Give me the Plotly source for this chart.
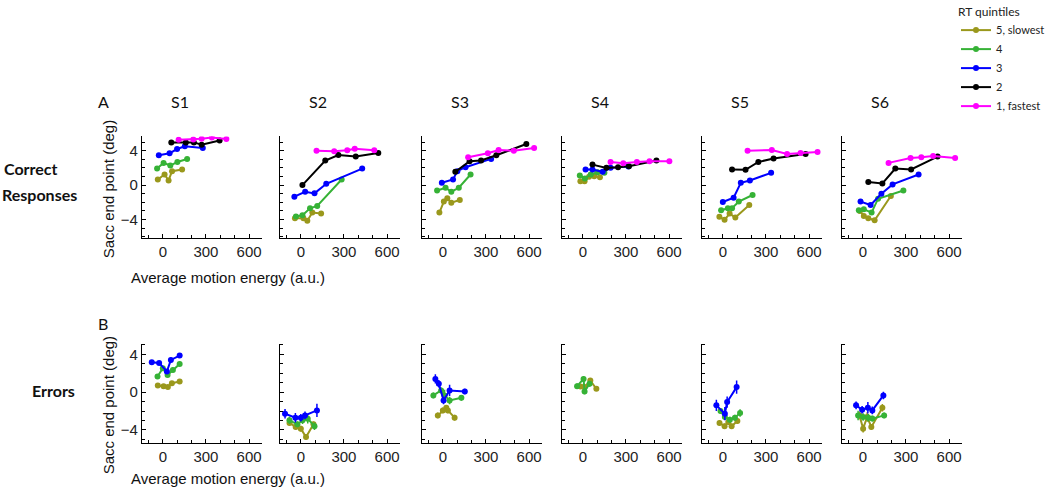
import plotly.graph_objects as go

# ---------------- data ----------------
SUBJECTS = ["S1", "S2", "S3", "S4", "S5", "S6"]
QUINTILES = ["5, slowest", "4", "3", "2", "1, fastest"]
COLORS = ["#9a981c", "#36b236", "#0000ff", "#000000", "#ff00ff"]

# Row A (correct responses): lists ordered quintile 5,4,3,2,1
A1_X = [[-35, 12, 40, 64, 134], [-40, 5, 52, 101, 169], [-28, 47, 99, 153, 278],
        [59, 160, 216, 270, 395], [110, 212, 270, 341, 442]]
A1_Y = [[0.65, 1.23, 0.54, 1.62, 1.81], [1.92, 2.58, 2.27, 2.69, 3.04], [3.46, 3.69, 4.19, 4.5, 4.31],
        [4.96, 4.96, 4.96, 4.69, 5.19], [5.27, 5.3, 5.38, 5.54, 5.35]]
A2_X = [[-41, 18, 45, 80, 141], [-34, 11, 64, 114, 284], [-45, 30, 95, 177, 427],
        [11, 170, 261, 382, 539], [109, 232, 323, 375, 511]]
A2_Y = [[-3.85, -3.85, -4.15, -3.19, -3.31], [-3.65, -3.5, -2.7, -2.42, 0.65], [-1.35, -0.77, -0.96, 0.15, 1.92],
        [0.0, 2.85, 3.5, 3.31, 3.73], [4.0, 3.92, 4.04, 4.23, 4.04]]
A3_X = [[-24, 7, 31, 59, 118], [-40, 19, 59, 111, 193], [-7, 71, 101, 158, 336],
        [87, 186, 266, 372, 581], [176, 313, 388, 494, 635]]
A3_Y = [[-3.19, -1.92, -1.54, -2.04, -1.73], [-0.62, -0.31, -0.77, -0.31, 1.23], [0.27, 0.65, 1.62, 2.08, 3.04],
        [1.54, 2.77, 2.85, 3.46, 4.77], [3.23, 3.69, 4.08, 4.0, 4.31]]
A4_X = [[-17, 12, 43, 79, 119], [-21, 14, 55, 102, 150], [19, 67, 138, 193, 317],
        [67, 164, 245, 321, 512], [193, 281, 376, 464, 602]]
A4_Y = [[0.46, 0.46, 0.96, 1.04, 0.92], [1.12, 0.77, 1.23, 1.5, 1.42], [1.81, 1.81, 1.54, 2.0, 2.15],
        [2.38, 2.0, 2.08, 2.19, 2.85], [2.69, 2.54, 2.69, 2.77, 2.77]]
A5_X = [[-24, 12, 47, 87, 184], [-12, 35, 64, 111, 207], [0, 75, 125, 188, 336],
        [64, 158, 247, 353, 576], [172, 341, 447, 541, 659]]
A5_Y = [[-3.69, -4.04, -3.31, -3.77, -2.31], [-2.92, -2.69, -2.69, -1.92, -1.15], [-1.96, -1.46, 0.27, 0.54, 1.42],
        [1.81, 1.77, 2.69, 3.08, 3.62], [4.0, 4.08, 3.62, 3.73, 3.85]]
A6_X = [[-21, 7, 38, 82, 195], [-28, 7, 61, 106, 282], [-16, 54, 129, 207, 388],
        [38, 136, 226, 336, 520], [179, 332, 407, 489, 642]]
A6_Y = [[-3.0, -3.58, -3.85, -4.08, -1.27], [-2.92, -2.81, -3.19, -1.58, -0.62], [-1.92, -2.31, -1.0, 0.08, 1.23],
        [0.35, 0.19, 1.92, 1.81, 3.31], [2.58, 3.15, 3.23, 3.38, 3.15]]

# Row B (errors): quintiles 5,4,3 only
B1_X = [[-35, 5, 35, 63, 117], [-37, 0, 33, 70, 117], [-77, -26, 28, 56, 117]]
B1_Y = [[0.7, 0.63, 0.53, 0.95, 1.12], [1.65, 2.53, 1.82, 2.35, 2.98], [3.16, 3.09, 2.18, 3.4, 3.86]]
B1_E = [[0.15, 0.15, 0.15, 0.15, 0.2], [0.25, 0.25, 0.25, 0.25, 0.25], [0.2, 0.2, 0.25, 0.25, 0.25]]
B2_X = [[-79, -36, 0, 36, 88], [-79, -24, 12, 48, 95], [-110, -38, 0, 29, 112]]
B2_Y = [[-3.26, -3.68, -3.86, -4.74, -3.4], [-2.98, -3.4, -2.98, -2.81, -3.61], [-2.28, -2.7, -2.7, -2.46, -1.93]]
B2_E = [[0.3, 0.3, 0.3, 0.3, 0.3], [0.4, 0.3, 0.4, 0.5, 0.4], [0.5, 0.5, 0.4, 0.4, 0.7]]
B3_X = [[-35, 0, 24, 35, 82], [-66, -12, 12, 47, 129], [-52, -28, 5, 47, 153]]
B3_Y = [[-2.46, -1.93, -1.65, -1.93, -2.7], [-0.35, 0.18, -0.35, -0.88, -0.6], [1.4, 0.88, -0.88, 0.18, 0.07]]
B3_E = [[0.3, 0.3, 0.3, 0.3, 0.3], [0.3, 0.3, 0.6, 0.4, 0.3], [0.5, 0.4, 0.4, 0.6, 0.3]]
B4_X = [[-16, 12, 52, 94], [-40, 5, 12, 47]]
B4_Y = [[0.6, 0.53, 1.23, 0.35], [0.63, 1.4, 0.07, 0.88]]
B4_E = [[0.2, 0.2, 0.2, 0.2], [0.3, 0.3, 0.3, 0.3]]
B5_X = [[-23, 12, 38, 61, 101], [-16, 14, 49, 84, 120], [-45, 14, 30, 96]]
B5_Y = [[-3.26, -3.61, -3.16, -3.61, -3.05], [-2.0, -2.63, -2.91, -2.7, -2.21], [-1.4, -2.28, -1.05, 0.53]]
B5_E = [[0.3, 0.3, 0.3, 0.3, 0.3], [0.3, 0.3, 0.3, 0.3, 0.4], [0.6, 0.7, 0.6, 0.7]]
B6_X = [[-23, 2, 30, 59, 136], [-33, 2, 38, 66, 148], [-47, -5, 35, 66, 143]]
B6_Y = [[-2.46, -3.86, -2.63, -3.68, -1.65], [-2.46, -2.63, -2.7, -2.8, -2.46], [-1.4, -1.86, -1.65, -1.93, -0.35]]
B6_E = [[0.4, 0.4, 0.5, 0.3, 0.4], [0.5, 0.4, 0.4, 0.3, 0.3], [0.4, 0.4, 0.6, 0.4, 0.4]]

ERR_A_X = 12
ERR_A_Y = 0.2
ERR_B_X = 10

X_TICKS = [0, 300, 600]
Y_TICKS = [-4, 0, 4]

ROW_A = [(A1_X, A1_Y), (A2_X, A2_Y), (A3_X, A3_Y), (A4_X, A4_Y), (A5_X, A5_Y), (A6_X, A6_Y)]
ROW_B = [(B1_X, B1_Y, B1_E), (B2_X, B2_Y, B2_E), (B3_X, B3_Y, B3_E),
         (B4_X, B4_Y, B4_E), (B5_X, B5_Y, B5_E), (B6_X, B6_Y, B6_E)]

# ---------------- layout geometry (pixels) ----------------
W, H = 1050, 493
COL_LEFT = [142, 280, 422, 562, 702, 842]
AX_W = 120
ROWS = [(135, 237), (343, 443)]
X_RANGE = [-145, 690]
Y_RANGES = [[-6.15, 5.65], [-5.4, 5.13]]

TICK_FONT = dict(family="Liberation Sans, Arial, sans-serif", size=15, color="#222")
LABEL_FONT = "Lato, Open Sans, sans-serif"

fig = go.Figure()
layout = {}

def px_x(p):
    return p / W

def px_y(p):
    return 1 - p / H

def add_series(ax_i, xs, ys, qi, ex, ey, show):
    sfx = "" if ax_i == 1 else str(ax_i)
    fig.add_trace(go.Scatter(
        x=xs, y=ys, mode="lines+markers",
        line=dict(color=COLORS[qi], width=2),
        marker=dict(color=COLORS[qi], size=6),
        error_x=dict(type="constant", value=ex, color=COLORS[qi], thickness=1.5, width=0),
        error_y=(dict(type="data", array=ey, color=COLORS[qi], thickness=1.5, width=0)
                 if isinstance(ey, list) else
                 dict(type="constant", value=ey, color=COLORS[qi], thickness=1.5, width=0)),
        name=QUINTILES[qi], showlegend=show,
        xaxis="x" + sfx, yaxis="y" + sfx,
    ))

ax_i = 0
for r in range(2):
    top, bot = ROWS[r]
    for c in range(6):
        ax_i += 1
        sfx = "" if ax_i == 1 else str(ax_i)
        left = COL_LEFT[c]
        layout["xaxis" + sfx] = dict(
            domain=[px_x(left), px_x(left + AX_W)], anchor="y" + sfx,
            range=X_RANGE, tickvals=X_TICKS, ticktext=[str(v) for v in X_TICKS],
            showline=True, linecolor="black", linewidth=1.2, showgrid=False, zeroline=False,
            ticks="inside", ticklen=4, tickcolor="black", tickfont=TICK_FONT,
            ticklabelstandoff=0,
            minor=dict(dtick=100, tick0=0, ticks="inside", ticklen=3, tickcolor="black", showgrid=False),
        )
        layout["yaxis" + sfx] = dict(
            domain=[px_y(bot), px_y(top)], anchor="x" + sfx,
            range=Y_RANGES[r], tickvals=Y_TICKS,
            ticktext=["\u22124", "0", "4"], showticklabels=(c == 0),
            showline=True, linecolor="black", linewidth=1.2, showgrid=False, zeroline=False,
            ticks="inside", ticklen=4, tickcolor="black", tickfont=TICK_FONT,
            ticklabelstandoff=0,
            minor=dict(dtick=1, tick0=0, ticks="inside", ticklen=3, tickcolor="black", showgrid=False),
        )
        if r == 0:
            xs_all, ys_all = ROW_A[c]
            for qi in range(5):
                add_series(ax_i, xs_all[qi], ys_all[qi], qi, ERR_A_X, ERR_A_Y, c == 0)
        else:
            xs_all, ys_all, es_all = ROW_B[c]
            for k in range(len(xs_all)):
                add_series(ax_i, xs_all[k], ys_all[k], k, ERR_B_X, es_all[k], False)

annotations = []
def ann(text, x, y, size=15, family=LABEL_FONT, bold=False, xanchor="center", angle=0, color="#111"):
    annotations.append(dict(
        text=("<b>%s</b>" % text) if bold else text, x=px_x(x), y=px_y(y),
        xref="paper", yref="paper", showarrow=False, xanchor=xanchor, yanchor="middle",
        textangle=angle, font=dict(family=family, size=size, color=color),
    ))

for c, s in enumerate(SUBJECTS):
    ann(s, COL_LEFT[c] + 38, 100, size=16)
ann("A", 103, 100, size=16)
ann("B", 103, 323, size=16)
ann("Correct", 2, 167, size=16, bold=True, xanchor="left")
ann("Responses", 0, 193, size=16, bold=True, xanchor="left")
ann("Errors", 30, 390, size=16, bold=True, xanchor="left")
ann("Sacc end point (deg)", 108, 188, size=15, family=TICK_FONT["family"], angle=-90)
ann("Sacc end point (deg)", 108, 405, size=15, family=TICK_FONT["family"], angle=-90)
ann("Average motion energy (a.u.)", 228, 277, size=15, family=TICK_FONT["family"])
ann("Average motion energy (a.u.)", 228, 478, size=15, family=TICK_FONT["family"])

fig.update_layout(
    width=W, height=H, margin=dict(l=0, r=0, t=0, b=0),
    paper_bgcolor="white", plot_bgcolor="white",
    annotations=annotations,
    legend=dict(
        x=1, y=px_y(-2), xanchor="right", yanchor="top",
        title=dict(text="RT quintiles", font=dict(family=LABEL_FONT, size=12, color="#222")),
        font=dict(family=LABEL_FONT, size=11, color="#222"),
        bgcolor="rgba(0,0,0,0)", tracegroupgap=0, itemwidth=30,
    ),
    **layout,
)

fig.write_html("out.html", config={"displayModeBar": False},
               post_script="document.body.style.margin='0';document.body.style.padding='0';")
